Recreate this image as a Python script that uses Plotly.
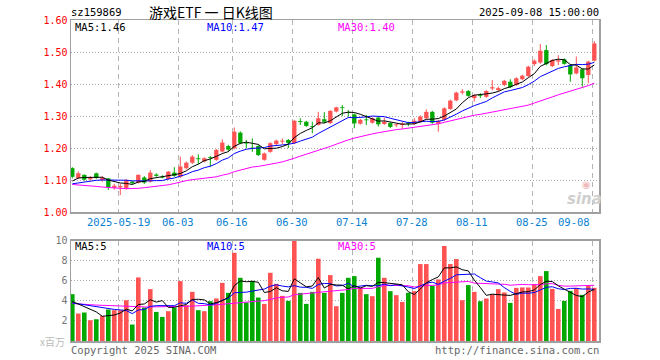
import plotly.graph_objects as go
import pandas as pd

dates = ["2025-05-07","2025-05-08","2025-05-09","2025-05-12","2025-05-13","2025-05-14","2025-05-15","2025-05-16",
         "2025-05-19","2025-05-20","2025-05-21","2025-05-22","2025-05-23","2025-05-26","2025-05-27","2025-05-28",
         "2025-05-29","2025-05-30","2025-06-03","2025-06-04","2025-06-05","2025-06-06","2025-06-09","2025-06-10",
         "2025-06-11","2025-06-12","2025-06-13","2025-06-16","2025-06-17","2025-06-18","2025-06-19","2025-06-20",
         "2025-06-23","2025-06-24","2025-06-25","2025-06-26","2025-06-27","2025-06-30","2025-07-01","2025-07-02",
         "2025-07-03","2025-07-04","2025-07-07","2025-07-08","2025-07-09","2025-07-10","2025-07-11","2025-07-14",
         "2025-07-15","2025-07-16","2025-07-17","2025-07-18","2025-07-21","2025-07-22","2025-07-23","2025-07-24",
         "2025-07-25","2025-07-28","2025-07-29","2025-07-30","2025-07-31","2025-08-01","2025-08-04","2025-08-05",
         "2025-08-06","2025-08-07","2025-08-08","2025-08-11","2025-08-12","2025-08-13","2025-08-14","2025-08-15",
         "2025-08-18","2025-08-19","2025-08-20","2025-08-21","2025-08-22","2025-08-25","2025-08-26","2025-08-27",
         "2025-08-28","2025-08-29","2025-09-01","2025-09-02","2025-09-03","2025-09-04","2025-09-05","2025-09-08"]

opens = [1.137,1.106,1.116,1.102,1.121,1.100,1.105,1.076,1.077,1.075,
         1.095,1.092,1.108,1.095,1.117,1.110,1.103,1.123,1.110,1.137,
         1.154,1.168,1.158,1.171,1.163,1.189,1.206,1.199,1.248,1.217,
         1.201,1.206,1.163,1.188,1.212,1.220,1.225,1.215,1.284,1.282,
         1.268,1.272,1.290,1.278,1.314,1.327,1.312,1.305,1.276,1.289,
         1.279,1.295,1.275,1.278,1.271,1.272,1.278,1.275,1.283,1.293,
         1.313,1.276,1.288,1.322,1.349,1.373,1.378,1.356,1.366,1.360,
         1.386,1.381,1.397,1.407,1.397,1.415,1.425,1.462,1.467,1.506,
         1.456,1.470,1.477,1.459,1.433,1.446,1.428,1.473]
closes = [1.110,1.121,1.101,1.108,1.106,1.107,1.077,1.082,1.081,1.100,
          1.090,1.116,1.092,1.123,1.113,1.108,1.126,1.113,1.142,1.154,
          1.173,1.165,1.168,1.169,1.194,1.217,1.195,1.251,1.215,1.214,
          1.198,1.178,1.183,1.215,1.223,1.223,1.216,1.285,1.281,1.269,
          1.266,1.293,1.282,1.316,1.327,1.325,1.310,1.277,1.288,1.287,
          1.293,1.274,1.282,1.266,1.274,1.276,1.276,1.285,1.298,1.313,
          1.279,1.285,1.324,1.348,1.373,1.377,1.363,1.365,1.363,1.378,
          1.390,1.387,1.410,1.390,1.418,1.426,1.454,1.473,1.504,1.462,
          1.475,1.474,1.463,1.430,1.452,1.418,1.470,1.527]
highs = [1.140,1.127,1.118,1.112,1.123,1.112,1.106,1.088,1.088,1.103,
         1.098,1.118,1.112,1.131,1.121,1.115,1.128,1.140,1.173,1.158,
         1.178,1.180,1.171,1.175,1.197,1.227,1.210,1.264,1.252,1.225,
         1.230,1.209,1.186,1.218,1.226,1.230,1.228,1.288,1.293,1.285,
         1.282,1.313,1.312,1.318,1.329,1.334,1.319,1.308,1.291,1.303,
         1.296,1.298,1.295,1.280,1.277,1.282,1.282,1.293,1.302,1.321,
         1.316,1.288,1.327,1.351,1.376,1.384,1.381,1.368,1.371,1.381,
         1.412,1.392,1.413,1.415,1.421,1.429,1.457,1.477,1.525,1.522,
         1.478,1.490,1.480,1.462,1.486,1.449,1.473,1.534]
lows = [1.105,1.104,1.098,1.099,1.104,1.094,1.069,1.070,1.053,1.070,
        1.086,1.089,1.088,1.092,1.110,1.105,1.101,1.110,1.106,1.133,
        1.150,1.150,1.155,1.142,1.160,1.186,1.190,1.196,1.212,1.199,
        1.188,1.175,1.160,1.185,1.209,1.212,1.200,1.212,1.272,1.266,
        1.246,1.270,1.277,1.275,1.311,1.300,1.298,1.262,1.273,1.272,
        1.276,1.267,1.272,1.262,1.265,1.260,1.268,1.272,1.279,1.290,
        1.276,1.251,1.285,1.319,1.346,1.368,1.360,1.345,1.356,1.357,
        1.380,1.376,1.393,1.387,1.394,1.412,1.422,1.456,1.463,1.458,
        1.453,1.459,1.460,1.407,1.430,1.392,1.402,1.470]
volumes = [4.67,2.74,2.84,2.07,2.17,2.50,3.14,3.07,3.07,4.07,
           1.64,6.34,3.34,5.17,2.90,2.40,2.97,3.30,5.97,3.57,
           4.90,3.07,2.97,3.97,4.24,5.80,4.80,8.80,6.30,3.84,
           6.00,4.33,3.70,6.80,5.70,4.50,4.00,10.0,4.80,3.70,
           4.90,8.20,4.80,6.57,3.47,4.80,6.30,6.47,5.34,4.67,
           4.47,8.30,6.30,4.97,4.57,3.90,4.80,4.97,7.67,7.67,
           5.50,6.14,9.47,7.67,8.17,4.07,5.57,4.90,3.97,4.24,
           4.67,5.17,4.84,3.80,5.30,5.34,5.34,5.67,6.47,6.97,
           5.20,3.20,4.00,5.00,5.30,4.60,5.50,5.30]

# Moving-average values before enough history is visible
ma5_head = [1.097, 1.106, 1.108, 1.108]
ma10_head = [1.088, 1.091, 1.094, 1.097, 1.099, 1.100, 1.100, 1.100, 1.099]
ma30_head = [1.086,1.085,1.084,1.082,1.080,1.078,1.076,1.075,1.074,1.073,
             1.073,1.074,1.076,1.078,1.080,1.082,1.085,1.089,1.094,1.098,
             1.101,1.103,1.105,1.107,1.110,1.115,1.119,1.126,1.131]
vma5_head = [3.95, 3.70, 3.45, 3.15]
vma10_head = [3.80, 3.70, 3.60, 3.50, 3.40, 3.30, 3.20, 3.15, 3.10]
vma30_head = [3.74,3.72,3.68,3.62,3.58,3.55,3.52,3.49,3.46,3.44,
              3.42,3.41,3.40,3.40,3.40,3.40,3.41,3.42,3.44,3.46,
              3.48,3.50,3.53,3.57,3.61,3.66,3.72,3.80,3.86]

tick_dates = ["2025-05-19","2025-06-03","2025-06-16","2025-06-30","2025-07-14",
              "2025-07-28","2025-08-11","2025-08-25","2025-09-08"]
tick_labels = ["2025-05-19","06-03","06-16","06-30","07-14","07-28","08-11","08-25","09-08"]
price_ticks = [1.00, 1.10, 1.20, 1.30, 1.40, 1.50, 1.60]
vol_ticks = [2, 4, 6, 8, 10]

RED = "#ff5353"
GREEN = "#00a800"
MONO = "DejaVu Sans Mono"

n = len(dates)
idx = list(range(n))


def ma(values, w, head):
    s = pd.Series(values).rolling(w).mean().tolist()
    return head + s[len(head):]


ma5 = ma(closes, 5, ma5_head)
ma10 = ma(closes, 10, ma10_head)
ma30 = ma(closes, 30, ma30_head)
vma5 = ma(volumes, 5, vma5_head)
vma10 = ma(volumes, 10, vma10_head)
vma30 = ma(volumes, 30, vma30_head)

up = [c >= o for o, c in zip(opens, closes)]
colors = [RED if u else GREEN for u in up]

fig = go.Figure()

# wicks
for flag, col in [(True, RED), (False, GREEN)]:
    wx, wy = [], []
    for i in idx:
        if up[i] == flag:
            wx += [i, i, None]
            wy += [lows[i], highs[i], None]
    fig.add_trace(go.Scatter(x=wx, y=wy, mode="lines", line=dict(color=col, width=1),
                             hoverinfo="skip", showlegend=False, xaxis="x", yaxis="y"))

# bodies
body_h = [max(abs(c - o), 0.0025) for o, c in zip(opens, closes)]
body_b = [min(o, c) if abs(c - o) >= 0.0025 else (o + c) / 2 - 0.00125 for o, c in zip(opens, closes)]
fig.add_trace(go.Bar(x=idx, y=body_h, base=body_b, width=0.72, marker=dict(color=colors, line=dict(width=0)),
                     showlegend=False, xaxis="x", yaxis="y"))

for vals, col in [(ma30, "#ff00ff"), (ma10, "#0000ff"), (ma5, "#000000")]:
    fig.add_trace(go.Scatter(x=idx, y=vals, mode="lines", line=dict(color=col, width=1),
                             showlegend=False, xaxis="x", yaxis="y"))

# volume
fig.add_trace(go.Bar(x=idx, y=volumes, width=0.76, marker=dict(color=colors, line=dict(width=0)),
                     showlegend=False, xaxis="x2", yaxis="y2"))
for vals, col in [(vma30, "#ff00ff"), (vma10, "#0000ff"), (vma5, "#000000")]:
    fig.add_trace(go.Scatter(x=idx, y=vals, mode="lines", line=dict(color=col, width=1),
                             showlegend=False, xaxis="x2", yaxis="y2"))

grid_x = [dates.index(d) - 0.34 for d in tick_dates]
xr = [-0.2167, 87.7833]

L, R, T, B = 71, 61, 20, 19
W, H = 660, 360
PW, PH = W - L - R, H - T - B


def px(x):
    return (x - L) / PW


def py(y):
    return (H - B - y) / PH


main_bottom = py(212)
vol_top = py(240.7)

axis_common = dict(showline=True, mirror=True, linecolor="#a0a0a0", linewidth=1.5, zeroline=False,
                   ticks="", fixedrange=True)

fig.update_layout(
    width=W, height=H, margin=dict(l=L, r=R, t=T, b=B),
    paper_bgcolor="white", plot_bgcolor="white",
    barmode="overlay", showlegend=False,
    font=dict(family=MONO, size=10, color="#000"),
    xaxis=dict(domain=[0, 1], range=xr, anchor="y", tickvals=grid_x, showticklabels=False,
               showgrid=True, gridcolor="#b4b4b4", griddash="5px,4px", gridwidth=1, **axis_common),
    yaxis=dict(domain=[main_bottom, 1], range=[1.0, 1.6], anchor="x", tickvals=price_ticks,
               ticktext=["%.2f" % v for v in price_ticks], tickfont=dict(color="#ff0000", size=10, family=MONO),
               showgrid=True, gridcolor="#aaaaaa", griddash="1px,2px", gridwidth=1, **axis_common),
    xaxis2=dict(domain=[0, 1], range=xr, anchor="y2", tickvals=grid_x, showticklabels=False,
                showgrid=True, gridcolor="#b4b4b4", griddash="5px,4px", gridwidth=1, **axis_common),
    yaxis2=dict(domain=[0, vol_top], range=[0, 10], anchor="x2", tickvals=vol_ticks,
                ticktext=[str(v) for v in vol_ticks], tickfont=dict(color="#777777", size=10, family=MONO),
                showgrid=True, gridcolor="#aaaaaa", griddash="1px,2px", gridwidth=1, **axis_common),
)

ann = []


def text(x, y, s, anchor="left", color="#000", size=10, family=MONO, **kw):
    ann.append(dict(x=px(x), y=py(y), xref="paper", yref="paper", text=s, showarrow=False,
                    xanchor=anchor, yanchor="middle", font=dict(color=color, size=size, family=family), **kw))


text(69, 12, "sz159869", size=10.5)
text(211, 12, "游戏ETF\u00a0一\u00a0日K线图", anchor="center", size=14, family="Noto Sans CJK SC")
text(601, 12, "2025-09-08 15:00:00", anchor="right", size=10.5)

text(73, 27, "MA5:%.2f" % ma5[-1], size=10.5)
text(205, 27, "MA10:%.2f" % ma10[-1], color="#0000ff", size=10.5)
text(336, 27, "MA30:%.2f" % ma30[-1], color="#ff00ff", size=10.5)

text(73, 246, "MA5:%d" % int(vma5[-1]), size=10.5)
text(205, 246, "MA10:%d" % int(vma10[-1]), color="#0000ff", size=10.5)
text(336, 246, "MA30:%d" % int(vma30[-1]), color="#ff00ff", size=10.5)

for d, lab in zip(tick_dates, tick_labels):
    gx = 72.3 + 6 * dates.index(d) - 2
    if lab == tick_labels[-1]:
        text(gx, 222, lab, anchor="right", color="#0a7fd2", size=10.5)
    else:
        text(gx, 222, lab, anchor="center", color="#0a7fd2", size=10.5)

text(67, 341, "x百万", anchor="right", color="#bbbbbb", size=10, family="Noto Sans CJK SC")
text(69, 350, "Copyright 2025 SINA.COM", color="#666666", size=10.5)
text(601, 350, "http://finance.sina.com.cn", anchor="right", color="#666666", size=10.5)
text(584, 199, "<b><i>sina</i></b>", anchor="center", color="#cfcfcf", size=15, family="DejaVu Sans")
text(586, 185, "◉", anchor="center", color="#f0b8b8", size=10, family="DejaVu Sans")

fig.update_layout(annotations=ann)
fig.write_html("out.html", config={"displayModeBar": False, "staticPlot": True},
               post_script="document.body.style.margin='0';document.body.style.overflow='hidden';")
